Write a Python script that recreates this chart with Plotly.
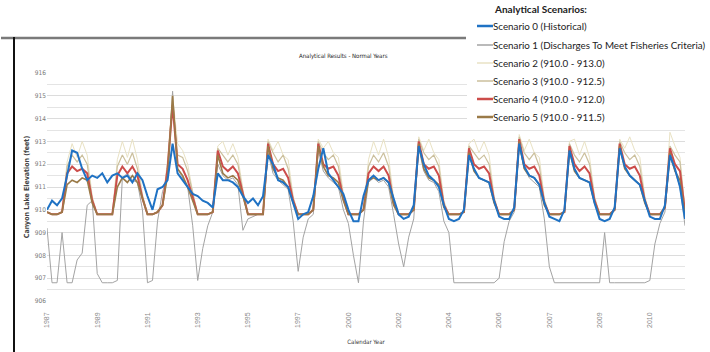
import plotly.graph_objects as go

# ---------------- data ----------------
year_labels = ["1987", "1989", "1991", "1993", "1995", "1997", "2000",
               "2002", "2004", "2006", "2007", "2009", "2010"]

scenario_names = [
    "Scenario 0 (Historical)",
    "Scenario 1 (Discharges To Meet Fisheries Criteria)",
    "Scenario 2 (910.0 - 913.0)",
    "Scenario 3 (910.0 - 912.5)",
    "Scenario 4 (910.0 - 912.0)",
    "Scenario 5 (910.0 - 911.5)",
]

# values sampled every 0.1 of a year-cycle
s0_historical = [
    910.0, 910.4, 910.2, 910.5, 911.5, 912.6, 912.5, 911.8, 911.3, 911.5,
    911.4, 911.6, 911.2, 911.5, 911.6, 911.4, 911.5, 911.2, 911.6, 911.3,
    910.6, 910.0, 910.9, 911.0, 911.3, 912.9, 911.6, 911.3, 911.0, 910.7,
    910.6, 910.4, 910.3, 910.1, 911.6, 911.3, 911.3, 911.2, 911.0, 910.6,
    910.3, 910.5, 910.2, 910.6, 912.4, 912.0, 911.3, 911.2, 911.0, 910.3,
    909.6, 909.8, 909.9, 910.6, 911.8, 912.7, 911.6, 911.3, 911.0, 910.7,
    910.0, 909.5, 909.5, 910.6, 911.3, 911.5, 911.3, 911.4, 911.2, 910.5,
    909.8, 909.6, 909.7, 910.2, 912.8, 912.0, 911.5, 911.3, 911.0, 910.2,
    909.6, 909.5, 909.6, 910.0, 912.4, 911.8, 911.4, 911.3, 911.2, 910.4,
    909.7, 909.6, 909.6, 910.1, 912.9, 911.9, 911.5, 911.4, 911.1, 910.3,
    909.7, 909.6, 909.5, 910.0, 912.6, 911.8, 911.4, 911.3, 911.2, 910.3,
    909.6, 909.5, 909.6, 910.1, 912.7, 911.9, 911.5, 911.3, 911.1, 910.4,
    909.7, 909.6, 909.6, 910.2, 912.4, 911.8, 911.0, 909.6,
]
s1_fisheries = [
    909.2, 906.8, 906.8, 909.0, 906.8, 906.8, 907.8, 908.1, 910.2, 910.4,
    907.2, 906.8, 906.8, 906.8, 906.9, 911.4, 911.6, 911.3, 911.2, 910.0,
    906.8, 906.9, 909.5, 910.8, 911.4, 915.2, 911.8, 911.4, 911.0, 909.3,
    906.9, 908.3, 909.3, 909.9, 912.0, 911.5, 911.3, 911.4, 911.1, 909.1,
    909.6, 909.7, 909.8, 909.8, 912.5, 911.6, 911.3, 911.1, 910.9, 909.5,
    907.3, 908.8, 909.6, 909.8, 912.6, 911.7, 911.4, 911.2, 911.0, 910.0,
    909.4, 908.0, 906.8, 909.5, 911.2, 911.4, 911.2, 911.3, 911.0, 909.8,
    908.5, 907.5, 908.8, 909.6, 912.7, 911.7, 911.3, 911.2, 910.8, 909.5,
    909.0, 906.8, 906.8, 906.8, 906.8, 906.8, 906.8, 906.8, 906.8, 906.8,
    907.0, 908.6, 909.5, 909.9, 912.8, 911.8, 911.4, 911.2, 911.0, 909.6,
    907.5, 906.8, 906.8, 906.8, 906.8, 906.8, 906.8, 906.8, 906.8, 906.8,
    906.8, 909.0, 906.8, 906.8, 906.8, 906.8, 906.8, 906.8, 906.8, 906.8,
    906.9, 908.5, 909.4, 909.9, 912.3, 911.7, 911.0, 909.3,
]
s2_913 = [
    909.9, 909.8, 909.8, 909.9, 912.1, 912.9, 912.3, 913.0, 912.4, 910.6,
    909.8, 909.8, 909.8, 909.8, 912.2, 913.0, 912.3, 913.1, 912.2, 910.7,
    909.8, 909.8, 909.9, 910.2, 912.2, 915.0, 912.9, 912.6, 912.0, 910.8,
    909.8, 909.8, 909.8, 909.9, 912.8, 913.0, 912.4, 912.9, 912.3, 910.9,
    909.8, 909.8, 909.8, 909.8, 913.1, 912.6, 913.0, 912.4, 912.2, 910.6,
    909.8, 909.8, 909.8, 910.0, 913.1, 912.7, 913.0, 912.5, 912.3, 910.7,
    909.8, 909.8, 909.8, 910.0, 912.2, 913.0, 912.4, 913.1, 912.3, 910.5,
    909.8, 909.8, 909.8, 910.0, 913.2, 912.6, 913.1, 912.5, 912.2, 910.4,
    909.8, 909.8, 909.8, 909.9, 912.9, 913.1, 912.5, 913.0, 912.4, 910.6,
    909.8, 909.8, 909.8, 910.0, 913.3, 912.6, 913.1, 912.5, 912.3, 910.5,
    909.8, 909.8, 909.8, 909.9, 913.0, 913.1, 912.4, 913.0, 912.3, 910.6,
    909.8, 909.8, 909.8, 910.0, 913.1, 912.7, 913.2, 912.6, 912.3, 910.6,
    909.8, 909.8, 909.8, 910.1, 913.4, 912.8, 912.3, 910.0,
]
s3_9125 = [
    909.9, 909.8, 909.8, 909.9, 911.9, 912.4, 912.1, 912.4, 912.0, 910.5,
    909.8, 909.8, 909.8, 909.8, 911.9, 912.4, 912.0, 912.5, 911.8, 910.6,
    909.8, 909.8, 909.9, 910.2, 912.0, 914.8, 912.4, 912.3, 911.7, 910.7,
    909.8, 909.8, 909.8, 909.9, 912.7, 912.4, 912.1, 912.4, 912.0, 910.8,
    909.8, 909.8, 909.8, 909.8, 913.0, 912.5, 912.1, 912.4, 911.8, 910.5,
    909.8, 909.8, 909.8, 910.0, 913.0, 912.5, 912.2, 912.4, 911.9, 910.6,
    909.8, 909.8, 909.8, 910.0, 911.9, 912.4, 912.1, 912.5, 911.9, 910.4,
    909.8, 909.8, 909.8, 910.0, 913.1, 912.5, 912.2, 912.4, 911.9, 910.3,
    909.8, 909.8, 909.8, 909.9, 912.8, 912.5, 912.2, 912.4, 912.0, 910.5,
    909.8, 909.8, 909.8, 910.0, 913.2, 912.5, 912.2, 912.5, 911.9, 910.4,
    909.8, 909.8, 909.8, 909.9, 912.9, 912.4, 912.1, 912.5, 912.0, 910.5,
    909.8, 909.8, 909.8, 910.0, 913.0, 912.5, 912.2, 912.4, 911.9, 910.5,
    909.8, 909.8, 909.8, 910.1, 912.8, 912.4, 912.1, 910.0,
]
s4_912 = [
    909.9, 909.8, 909.8, 909.9, 911.6, 911.9, 911.7, 911.8, 911.6, 910.4,
    909.8, 909.8, 909.8, 909.8, 911.5, 911.9, 911.6, 911.9, 911.5, 910.5,
    909.8, 909.8, 909.9, 910.2, 911.8, 914.6, 912.0, 911.8, 911.3, 910.5,
    909.8, 909.8, 909.8, 909.9, 912.6, 911.9, 911.7, 911.9, 911.6, 910.7,
    909.8, 909.8, 909.8, 909.8, 912.9, 912.0, 911.7, 911.8, 911.4, 910.4,
    909.8, 909.8, 909.8, 910.0, 912.9, 912.0, 911.8, 911.9, 911.5, 910.5,
    909.8, 909.8, 909.8, 910.0, 911.6, 911.9, 911.7, 911.9, 911.5, 910.3,
    909.8, 909.8, 909.8, 910.0, 913.0, 912.0, 911.8, 911.9, 911.5, 910.2,
    909.8, 909.8, 909.8, 909.9, 912.7, 912.0, 911.8, 911.9, 911.6, 910.4,
    909.8, 909.8, 909.8, 910.0, 913.1, 912.0, 911.8, 911.9, 911.5, 910.3,
    909.8, 909.8, 909.8, 909.9, 912.8, 912.0, 911.7, 911.9, 911.6, 910.4,
    909.8, 909.8, 909.8, 910.0, 912.9, 912.0, 911.8, 911.9, 911.5, 910.4,
    909.8, 909.8, 909.8, 910.1, 912.7, 912.0, 911.7, 909.9,
]
s5_9115 = [
    909.9, 909.8, 909.8, 909.9, 911.1, 911.3, 911.2, 911.4, 911.3, 910.3,
    909.8, 909.8, 909.8, 909.8, 911.0, 911.4, 911.2, 911.5, 911.2, 910.5,
    909.8, 909.8, 909.9, 910.2, 911.5, 915.0, 911.8, 911.5, 911.0, 910.4,
    909.8, 909.8, 909.8, 909.9, 912.4, 911.6, 911.4, 911.5, 911.3, 910.6,
    909.8, 909.8, 909.8, 909.8, 912.8, 911.8, 911.4, 911.3, 911.0, 910.3,
    909.8, 909.8, 909.8, 910.0, 912.8, 911.9, 911.5, 911.4, 911.2, 910.4,
    909.8, 909.8, 909.8, 910.0, 911.3, 911.4, 911.3, 911.4, 911.2, 910.2,
    909.8, 909.8, 909.8, 910.0, 912.9, 911.8, 911.4, 911.3, 911.1, 910.1,
    909.8, 909.8, 909.8, 909.9, 912.5, 911.7, 911.4, 911.3, 911.2, 910.3,
    909.8, 909.8, 909.8, 910.0, 913.0, 911.8, 911.5, 911.4, 911.1, 910.2,
    909.8, 909.8, 909.8, 909.9, 912.6, 911.7, 911.4, 911.3, 911.2, 910.3,
    909.8, 909.8, 909.8, 910.0, 912.8, 911.8, 911.5, 911.3, 911.1, 910.3,
    909.8, 909.8, 909.8, 910.1, 912.5, 911.7, 911.3, 909.8,
]

# time index (fraction of year-cycles from the first label)
t = [i / 10 for i in range(len(s0_historical))]

# ---------------- styling ----------------
W, H = 710, 352
ML, MT = 47, 73
PW, PH = 638, 228
MR, MB = W - ML - PW, H - MT - PH


def px(x):
    return (x - ML) / PW


def py(y):
    return (MT + PH - y) / PH


colors = ["#1f72c4", "#a3a3a3", "#e9e2c4", "#cbbf9c", "#cc4c4a", "#9a7a48"]
widths = [2.0, 1.0, 1.0, 1.2, 2.0, 1.6]
series = [s0_historical, s1_fisheries, s2_913, s3_9125, s4_912, s5_9115]
draw_order = [1, 2, 3, 4, 5, 0]

fig = go.Figure()
for i in draw_order:
    fig.add_trace(go.Scatter(
        x=t, y=series[i], mode="lines", name=scenario_names[i],
        line=dict(color=colors[i], width=widths[i]), showlegend=False,
    ))

narrow = "DejaVu Sans Condensed, Liberation Sans, sans-serif"
fig.update_layout(
    width=W, height=H,
    margin=dict(l=ML, r=MR, t=MT, b=MB, autoexpand=False),
    paper_bgcolor="white", plot_bgcolor="white",
    xaxis=dict(
        range=[0, 12.7], tickmode="array", tickvals=list(range(len(year_labels))),
        ticktext=year_labels, tickangle=-90, showgrid=False, zeroline=False,
        showline=False, ticks="", automargin=False, ticklabelstandoff=9,
        tickfont=dict(family="Liberation Sans, sans-serif", size=7, color="#8a8a8a"),
        title=dict(text="Calendar Year", font=dict(family=narrow, size=6, color="#333"), standoff=12),
    ),
    yaxis=dict(
        range=[906, 916], dtick=1, showgrid=True, gridcolor="#dcdcdc", gridwidth=1,
        minor=dict(dtick=0.5, showgrid=True, gridcolor="#e4e4e4", gridwidth=1),
        zeroline=False, showline=False, ticks="", automargin=False,
        tickfont=dict(family=narrow, size=6.5, color="#7a7a7a"),
        title=dict(text="<b>Canyon Lake Elevation (feet)</b>",
                   font=dict(family=narrow, size=7, color="#444"), standoff=4),
    ),
)

shapes = [
    # chart frame top border and left border
    dict(type="line", xref="paper", yref="paper", x0=px(1), x1=px(466),
         y0=py(38), y1=py(38), line=dict(color="#7a7a7a", width=2.5), layer="below"),
    dict(type="line", xref="paper", yref="paper", x0=px(14), x1=px(14),
         y0=py(352), y1=py(37), line=dict(color="#111", width=2), layer="below"),
    # legend background
    dict(type="rect", xref="paper", yref="paper", x0=px(467), x1=px(710),
         y0=py(124), y1=py(0), fillcolor="white", line=dict(width=0), layer="above"),
]
annotations = [
    dict(text="Analytical Results - Normal Years", xref="paper", yref="paper",
         x=px(343), y=py(56), showarrow=False, xanchor="center", yanchor="middle",
         font=dict(family=narrow, size=6, color="#222")),
    dict(text="<b>Analytical Scenarios:</b>", xref="paper", yref="paper",
         x=px(494), y=py(9), showarrow=False, xanchor="left", yanchor="middle",
         xshift=-2, font=dict(family="Lato", size=10, color="#222")),
]
leg_y = [26, 45, 63, 81, 99, 117]
for i, yy in enumerate(leg_y):
    shapes.append(dict(type="line", xref="paper", yref="paper", x0=px(477), x1=px(493),
                       y0=py(yy), y1=py(yy),
                       line=dict(color=colors[i], width=2.5 if widths[i] >= 1.6 else 1.5),
                       layer="above"))
    annotations.append(dict(text=scenario_names[i], xref="paper", yref="paper",
                            x=px(493), y=py(yy), showarrow=False, xanchor="left",
                            yanchor="middle", xshift=-2,
                            font=dict(family="Lato", size=9.8, color="#222")))

fig.update_layout(shapes=shapes, annotations=annotations)
# remove the default page margin so the figure sits at the window's top-left corner
fig.write_html("out.html", config={"displayModeBar": False},
               post_script="document.body.style.margin='0';")
